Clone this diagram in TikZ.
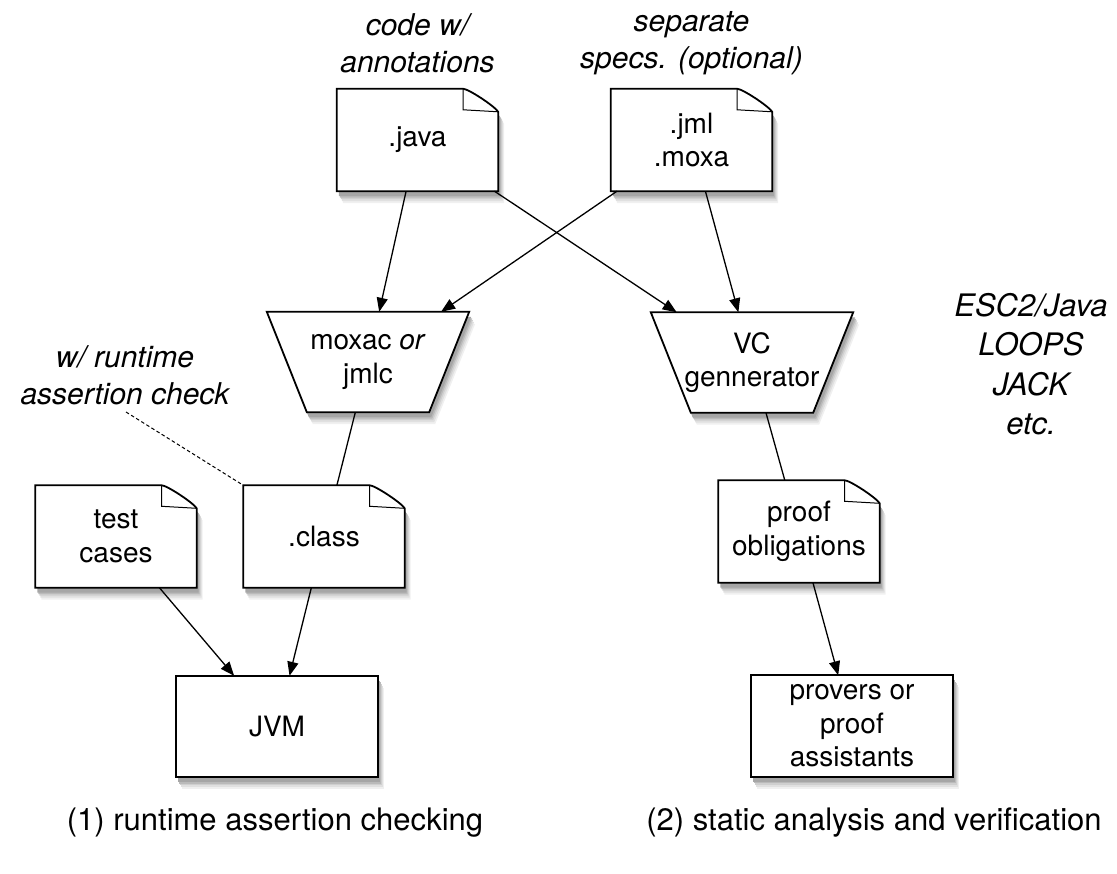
\documentclass[tikz,border=0pt]{standalone}
\usepackage{fontspec}
\setmainfont{TeX Gyre Heros}
\usetikzlibrary{arrows.meta,calc}
% outline paths of the shapes, offset by (#2,#3) in pt (canvas direction)
\newcommand\docoutline[3]{($(#1.south west)+(#2pt,#3pt)$) -- ($(#1.north west)+(#2pt,#3pt)$)
    -- ($(#1.north east)+(#2pt-35pt,#3pt)$)
    .. controls ($(#1.north east)+(#2pt-30pt,#3pt)$) and ($(#1.north east)+(#2pt-4pt,#3pt-17pt)$) .. ($(#1.north east)+(#2pt,#3pt-23pt)$)
    -- ($(#1.south east)+(#2pt,#3pt)$) -- cycle}
\newcommand\trapoutline[3]{($(#1.north west)+(#2pt,#3pt)$) -- ($(#1.north east)+(#2pt,#3pt)$)
    -- ($(#1.south east)+(#2pt-40pt,#3pt)$) -- ($(#1.south west)+(#2pt+40pt,#3pt)$) -- cycle}
\newcommand\rectoutline[3]{($(#1.north west)+(#2pt,#3pt)$) rectangle ($(#1.south east)+(#2pt,#3pt)$)}
% one shadow level for every shape: x offset, y offset, grey percentage
\newcommand\shadowlevel[3]{%
  \fill[black!#3] \docoutline{java}{#1}{#2};
  \fill[black!#3] \docoutline{jml}{#1}{#2};
  \fill[black!#3] \docoutline{class}{#1}{#2};
  \fill[black!#3] \docoutline{test}{#1}{#2};
  \fill[black!#3] \docoutline{proof}{#1}{#2};
  \fill[black!#3] \trapoutline{moxac}{#1}{#2};
  \fill[black!#3] \trapoutline{vc}{#1}{#2};
  \fill[black!#3] \rectoutline{jvm}{#1}{#2};
  \fill[black!#3] \rectoutline{provers}{#1}{#2};}
\begin{document}
\begin{tikzpicture}[x=1pt,y=-1pt,
  frame/.style={rectangle, inner sep=0pt},
  docframe/.style={frame, minimum width=161pt, minimum height=102pt},
  trapframe/.style={frame, minimum width=202pt, minimum height=100pt},
  plainframe/.style={frame, minimum width=201pt, minimum height=101pt},
  txt/.style={inner sep=0pt, align=center, font=\fontsize{28}{33.5}\selectfont},
  note/.style={inner sep=0pt, align=center, font=\fontsize{30}{37}\selectfont\itshape},
  toollist/.style={inner sep=0pt, align=center, font=\fontsize{31}{39.5}\selectfont\itshape},
  caption/.style={inner sep=0pt, font=\fontsize{31}{37}\selectfont},
  shapeline/.style={draw=black, line width=1.8pt, fill=white, line join=miter},
  foldline/.style={draw=black, line width=1pt},
  conn/.style={draw=black, line width=1.3pt},
  arr/.style={conn, -{Triangle[length=14pt, width=11pt]}},
  dashconn/.style={draw=black, line width=1pt, dash pattern=on 3.5pt off 2.5pt}
]
\useasboundingbox (0,0) rectangle (1117,874);

% frames of the nodes (the shapes are drawn below)
\node[docframe] (java) at (417.5,140) {};
\node[docframe] (jml) at (691.5,140) {};
\node[trapframe] (moxac) at (368,362) {};
\node[trapframe] (vc) at (752,362.5) {};
\node[docframe] (class) at (324,536.5) {};
\node[docframe] (test) at (116,536.5) {};
\node[docframe] (proof) at (799,531.5) {};
\node[plainframe] (jvm) at (277,726.5) {};
\node[plainframe] (provers) at (852,726) {};

% soft shadows
\shadowlevel{6}{-12}{6}
\shadowlevel{5}{-10}{12}
\shadowlevel{4}{-8}{19}
\shadowlevel{3}{-6.5}{27}
\shadowlevel{2}{-5}{35}

% shapes
\foreach \nm in {java,jml,class,test,proof}{
  \draw[shapeline] \docoutline{\nm}{0}{0};
  \draw[foldline] ($(\nm.north east)+(-35pt,0pt)$) -- ($(\nm.north east)+(-35pt,-21pt)$) -- ($(\nm.north east)+(0pt,-23pt)$);
}
\foreach \nm in {moxac,vc}{
  \draw[shapeline] \trapoutline{\nm}{0}{0};
}
\foreach \nm in {jvm,provers}{
  \draw[shapeline] \rectoutline{\nm}{0}{0};
}

% texts of the nodes
\node[txt] (javatext) at (java.center) {.java};
\node[txt] (jmltext) at (jml.center) {.jml\\.moxa};
\node[txt] (moxactext) at (moxac.center) {moxac \textit{or}\\jmlc};
\node[txt] (vctext) at (vc.center) {VC\\gennerator};
\node[txt] (classtext) at (class.center) {.class};
\node[txt] (testtext) at (test.center) {test\\cases};
\node[txt] (prooftext) at (proof.center) {proof\\obligations};
\node[txt] (jvmtext) at (jvm.center) {JVM};
\node[txt] (proverstext) at (provers.center) {provers or\\proof\\assistants};

% labels
\node[note] (lab1) at (417.5,43.5) {code w/\\annotations};
\node[note] (lab2) at (691.5,43.5) {separate\\specs. (optional)};
\node[note] (lab3) at (125,375) {w/ runtime\\assertion check};
\node[toollist] (tools) at (1031,364) {ESC2/Java\\LOOPS\\JACK\\etc.};
\node[caption] (cap1) at (275,823) {(1) runtime assertion checking};
\node[caption] (cap2) at (874,823) {(2) static analysis and verification};

% connectors
\draw[arr] (java) -- (moxac);
\draw[arr] (jml) -- (moxac);
\draw[arr] (java) -- (vc);
\draw[arr] (jml) -- (vc);
\draw[conn] (moxac) -- (class);
\draw[conn] (vc) -- (proof);
\draw[arr] (test) -- (jvm);
\draw[arr] (class) -- (jvm);
\draw[arr] (proof) -- (provers);
\coordinate (dashstart) at (126,412);
\draw[dashconn] (dashstart) -- (class.north west);
\end{tikzpicture}
\end{document}
